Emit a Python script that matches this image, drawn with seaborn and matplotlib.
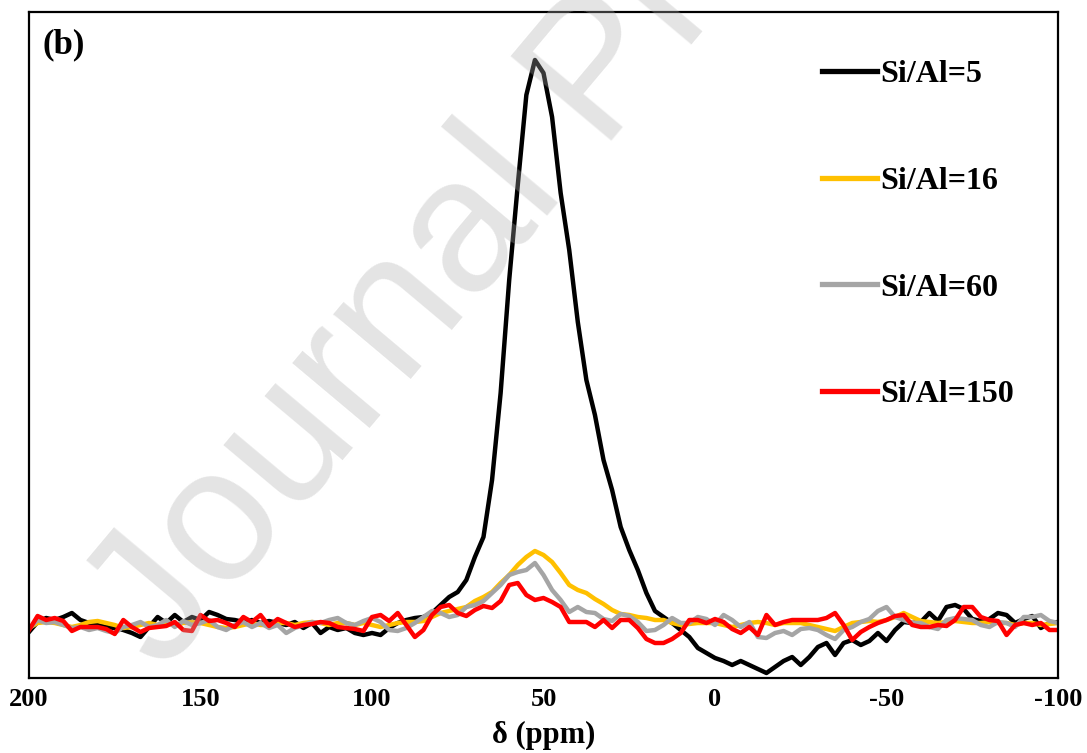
import numpy as np
import pandas as pd
import seaborn as sns
import matplotlib.pyplot as plt

# chemical shift grid (ppm), 200 -> -100 in 2.5 ppm steps
ppm = np.arange(200, -100.1, -2.5)

# intensities (a.u.), one value per grid point
si_al_5 = [
    -7, 3, 7, 5, 8, 12, 5, 2, 0, -2,
    -3, -5, -8, -12, -2, 8, 2, 10, 3, 8,
    5, 13, 10, 6, 5, 3, 5, 2, 4, 2,
    0, 3, -3, 2, -8, -2, -5, -3, -8, -10,
    -8, -10, -3, 2, 5, 7, 8, 12, 20, 28,
    33, 45, 68, 88, 145, 232, 345, 440, 530, 565,
    552, 508, 432, 375, 303, 245, 210, 165, 135, 98,
    75, 55, 32, 14, 8, 2, -5, -12, -23, -28,
    -33, -36, -40, -36, -40, -44, -48, -42, -36, -32,
    -40, -32, -22, -18, -30, -18, -15, -20, -16, -8,
    -16, -5, 3, 2, 3, 12, 4, 18, 20, 16,
    6, 4, 6, 12, 10, 2, 6, 9, -3, 2, 3,
]
si_al_16 = [
    -3, 2, 3, 2, 0, -2, 0, 3, 4, 2,
    0, -3, -2, 0, 2, 0, 2, 0, 2, 3,
    2, 0, -2, -3, -2, 0, 2, 0, 0, 2,
    2, 0, 2, 3, 2, 0, 2, 2, 0, 2,
    0, -2, 0, 2, 3, 3, 4, 8, 12, 14,
    16, 18, 24, 28, 33, 42, 50, 60, 68, 74,
    70, 63, 52, 40, 35, 32, 26, 21, 15, 11,
    10, 8, 7, 5, 5, 2, 0, 1, 2, 2,
    2, 0, -2, 0, 2, 3, 2, 0, 2, 2,
    2, 0, -2, -4, -6, -2, 2, 3, 4, 3,
    5, 8, 12, 8, 4, 3, 2, 3, 4, 3,
    2, 2, 3, 2, 2, 0, 2, 2, 0, 1, 2,
]
si_al_60 = [
    -4, 5, 2, 3, 0, -3, -2, -5, -3, -6,
    -8, -2, 0, 3, -2, 0, 5, -2, 4, 0,
    2, 5, -2, -5, 0, 3, -2, 2, -3, 0,
    -8, -3, 0, 3, 2, 5, 7, 2, 0, 4,
    7, 3, -5, -6, -3, 2, 8, 14, 12, 8,
    10, 18, 20, 24, 32, 40, 50, 53, 55, 62,
    50, 35, 25, 13, 18, 13, 12, 6, 4, 11,
    9, 3, -6, -5, 0, 7, 2, 2, 8, 6,
    0, 10, 5, -2, 3, -12, -13, -8, -6, -10,
    -4, -3, -5, -10, -14, -5, -2, 3, 6, 14,
    18, 8, 5, 2, 2, -2, -4, 5, 7, 6,
    5, 0, -2, 3, 2, -2, 8, 8, 10, 4, 2,
]
si_al_150 = [
    -5, 9, 5, 7, 4, -6, -2, -2, -2, -4,
    -9, 5, -2, -7, -3, -2, -1, 3, -5, -6,
    10, 4, 5, 2, -2, 8, 3, 10, -1, 6,
    2, -2, 0, 1, 3, 2, -2, -3, -4, -6,
    8, 10, 4, 12, 0, -12, -5, 10, 18, 20,
    12, 9, 15, 19, 17, 24, 40, 42, 30, 25,
    27, 23, 18, 3, 3, 3, -2, 5, -3, 5,
    5, -3, -14, -18, -18, -14, -8, 5, 5, 2,
    6, 3, -4, -8, -2, -10, 10, 0, 3, 5,
    5, 5, 5, 7, 12, 0, -15, -7, -2, 2,
    5, 9, 10, 0, -2, -2, 0, -1, 5, 18,
    18, 8, 5, 4, -10, 0, 2, 0, 2, -5, -5,
]

labels = ["Si/Al=5", "Si/Al=16", "Si/Al=60", "Si/Al=150"]
colors = ["#000000", "#FFC000", "#A5A5A5", "#FF0000"]
xticks = [200, 150, 100, 50, 0, -50, -100]

df = pd.concat(
    [pd.DataFrame({"ppm": ppm, "intensity": vals, "sample": lab})
     for lab, vals in zip(labels, [si_al_5, si_al_16, si_al_60, si_al_150])],
    ignore_index=True,
)

plt.rcParams["font.family"] = ["Liberation Serif", "DejaVu Serif"]
plt.rcParams["font.weight"] = "bold"

fig = plt.figure(figsize=(10.87, 7.53), dpi=100, facecolor="white")
ax = fig.add_axes([29 / 1087, 1 - 678 / 753, 1029 / 1087, 666 / 753])

sns.lineplot(data=df, x="ppm", y="intensity", hue="sample", hue_order=labels,
             palette=colors, estimator=None, sort=False, linewidth=3.2,
             legend=True, ax=ax)

ax.set_xlim(200, -100)
ax.set_ylim(-53, 613)
ax.set_xticks(xticks)
ax.set_xticklabels([str(t) for t in xticks], fontsize=19, fontweight="bold")
ax.set_yticks([])
ax.tick_params(axis="x", length=0, pad=7)
ax.set_xlabel("δ (ppm)", fontsize=22, fontweight="bold", labelpad=7)
ax.set_ylabel("")
for s in ax.spines.values():
    s.set_linewidth(1.6)
    s.set_color("black")

ax.text(0.013, 0.975, "(b)", transform=ax.transAxes, fontsize=25,
        fontweight="bold", ha="left", va="top")

old = ax.get_legend()
handles = old.legend_handles
old.remove()
for h in handles:
    h.set_linewidth(3.8)
ax.legend(handles, labels, loc="upper left", bbox_to_anchor=(0.771, 0.928),
          frameon=False, prop={"size": 23, "weight": "bold"},
          handlelength=1.72, handletextpad=0.1, labelspacing=2.42,
          borderpad=0, borderaxespad=0)

# journal watermark
fig.text(0.15, 0.105, "Journal Pre-proof", fontsize=138, color="#AEAEAE",
         alpha=0.33, rotation=50, rotation_mode="anchor", ha="left",
         va="baseline", family="Liberation Sans", fontweight="normal",
         zorder=10)

fig.savefig("out.png", dpi=100, facecolor="white")
